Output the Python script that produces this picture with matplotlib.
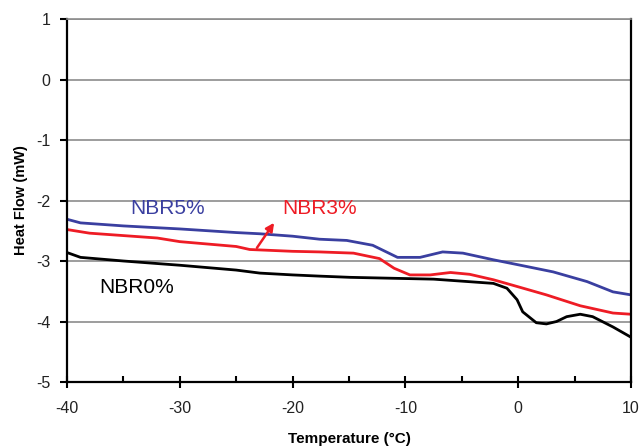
import matplotlib
matplotlib.use("Agg")
import matplotlib.pyplot as plt

plt.rcParams["font.family"] = ["Liberation Sans", "DejaVu Sans"]
plt.rcParams["axes.unicode_minus"] = False

# DSC curves: temperature (°C) vs heat flow (mW)
t_nbr5 = [-40, -38.8, -35, -30, -25, -22.9, -20, -17.6, -15.2, -12.9, -11.8, -10.7, -8.7,
          -6.7, -4.9, -2.2, 0.2, 3.1, 6.1, 8.4, 10]
hf_nbr5 = [-2.31, -2.37, -2.42, -2.47, -2.53, -2.55, -2.59, -2.64, -2.66, -2.74, -2.84, -2.94, -2.94,
           -2.85, -2.87, -2.98, -3.07, -3.18, -3.34, -3.51, -3.56]

t_nbr3 = [-40, -38, -35, -32, -30, -25, -23.8, -20, -17.6, -14.6, -12.3, -11, -9.6, -7.8,
          -6.0, -4.3, -2.2, -0.5, 2.5, 5.5, 8.4, 10]
hf_nbr3 = [-2.48, -2.54, -2.58, -2.62, -2.68, -2.76, -2.81, -2.84, -2.85, -2.87, -2.96, -3.12, -3.23, -3.23,
           -3.19, -3.22, -3.31, -3.40, -3.56, -3.74, -3.86, -3.88]

t_nbr0 = [-40, -38.8, -35, -30, -25, -22.9, -20, -17.6, -14.9, -10, -7.5, -2.2, -1.0, -0.1,
          0.4, 1.6, 2.5, 3.4, 4.3, 5.5, 6.6, 8.4, 10]
hf_nbr0 = [-2.86, -2.94, -3.00, -3.07, -3.15, -3.20, -3.23, -3.25, -3.27, -3.29, -3.30, -3.37, -3.45, -3.64,
           -3.84, -4.02, -4.04, -4.00, -3.92, -3.88, -3.92, -4.09, -4.26]

x_ticks = [-40, -30, -20, -10, 0, 10]
x_minor = [-35, -25, -15, -5, 5]
y_ticks = [-5, -4, -3, -2, -1, 0, 1]

fig = plt.figure(figsize=(6.41, 4.48), dpi=100)
ax = fig.add_axes([67 / 641, 1 - 382 / 448, (631 - 67) / 641, (382 - 19) / 448])

ax.plot(t_nbr5, hf_nbr5, color="#3a3fa0", lw=2)
ax.plot(t_nbr3, hf_nbr3, color="#ee1c25", lw=2)
ax.plot(t_nbr0, hf_nbr0, color="black", lw=2)

ax.set_xlim(-40, 10)
ax.set_ylim(-5, 1)
ax.set_xticks(x_ticks)
ax.set_xticks(x_minor, minor=True)
ax.set_yticks(y_ticks)
ax.yaxis.grid(True, color="#8c8c8c", lw=1.2)
ax.set_axisbelow(True)

for s in ["left", "bottom", "right"]:
    ax.spines[s].set_linewidth(1.6)
    ax.spines[s].set_color("black")
ax.spines["top"].set_color("#8c8c8c")
ax.spines["top"].set_linewidth(1.2)

ax.tick_params(axis="x", which="major", direction="inout", length=9, width=1.5, labelsize=11.5, pad=9,
               labelcolor="#222222")
ax.tick_params(axis="x", which="minor", direction="in", length=4, width=1.5)
ax.tick_params(axis="y", which="major", direction="out", length=5, width=1.5, labelsize=11.5, pad=7,
               labelcolor="#222222")

ax.set_xlabel("Temperature (°C)", fontsize=11, fontweight="bold", labelpad=12)
ax.set_ylabel("Heat Flow (mW)", fontsize=10.5, fontweight="bold", labelpad=6)

ax.text(-34.4, -2.13, "NBR5%", color="#3a3fa0", fontsize=15, va="center")
ax.text(-20.9, -2.13, "NBR3%", color="#ee1c25", fontsize=15, va="center")
ax.text(-37.1, -3.43, "NBR0%", color="black", fontsize=15, va="center")
ax.annotate("", xy=(-21.5, -2.33), xytext=(-23.3, -2.82),
            arrowprops=dict(arrowstyle="-|>", color="#ee1c25", lw=1.8, mutation_scale=12))

fig.savefig("out.png", dpi=100)
